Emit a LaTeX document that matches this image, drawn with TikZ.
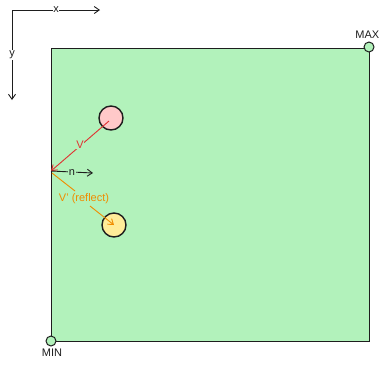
\documentclass[tikz,border=0pt]{standalone}
\usepackage{fontspec}
\setmainfont{Liberation Sans}
\usetikzlibrary{arrows.meta}
\definecolor{grn}{HTML}{B2F2BB}
\definecolor{pnk}{HTML}{FFC9C9}
\definecolor{ylw}{HTML}{FFEC99}
\definecolor{redc}{HTML}{E03131}
\definecolor{orc}{HTML}{F08C00}
\definecolor{ink}{HTML}{1E1E1E}
\tikzset{
  arr/.style={-{Straight Barb[length=5pt,width=7pt]}, line width=0.9pt},
  lbl/.style={font=\fontsize{11}{13}\selectfont, inner sep=1pt},
  corner/.style={circle, draw=ink, fill=grn, line width=1pt, minimum size=10pt, inner sep=0pt},
  ball/.style={circle, draw=ink, line width=1.4pt, minimum size=24pt, inner sep=0pt}
}
\begin{document}
\begin{tikzpicture}[x=1pt,y=-1pt]
\useasboundingbox (0,0) rectangle (380,365);
\draw[ink, fill=grn, line width=1pt] (51,48) rectangle (369,341);
% axes
\coordinate (o) at (12,10);
\coordinate (xe) at (100,10);
\coordinate (ye) at (12,100);
\draw[arr, ink] (o) -- (xe);
\draw[arr, ink] (o) -- (ye);
\node[lbl, fill=white, inner sep=0.5pt, text=ink] (xl) at (56,10) {x};
\node[lbl, fill=white, inner sep=0.5pt, text=ink] (yl) at (12,55) {y};
% corners
\node[corner] (max) at (369,47) {};
\node[corner] (min) at (51,341) {};
\node[lbl, text=ink, anchor=south east, inner sep=0pt] (maxl) at (379.5,39) {MAX};
\node[lbl, text=ink, anchor=north] (minl) at (52,348) {MIN};
% balls
\node[ball, fill=pnk] (p) at (111,118) {};
\node[ball, fill=ylw] (q) at (114,225) {};
% vectors
\coordinate (hit) at (51,171);
\coordinate (pc) at (109,121);
\coordinate (qc) at (114,225);
\draw[arr, redc] (pc) -- (hit);
\node[lbl, text=redc, fill=grn, inner sep=0.5pt] (vl) at (80,145) {V};
\coordinate (ne) at (93,173);
\draw[arr, ink] (hit) -- (ne);
\node[lbl, text=ink, fill=grn, inner sep=0.5pt] (nl) at (72,173) {n};
\node[lbl, text=orc] (rl) at (84,199) {V' (reflect)};
\draw[orc, line width=0.9pt] (52,173) -- (75,191);
\draw[arr, orc] (90,206) -- (qc);
\end{tikzpicture}
\end{document}
